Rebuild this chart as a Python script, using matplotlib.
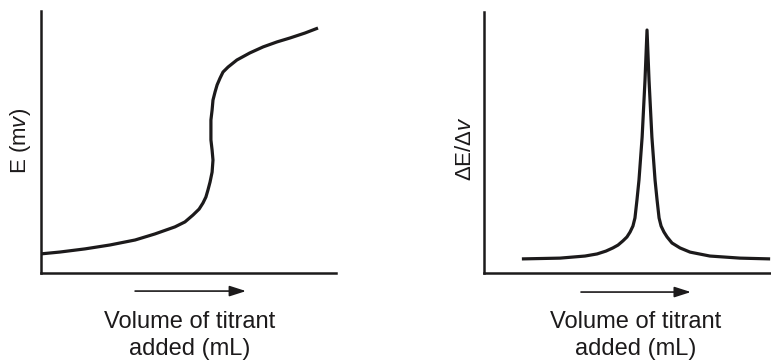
import matplotlib
matplotlib.use("Agg")
import matplotlib.pyplot as plt

plt.rcParams['font.family'] = ['Liberation Sans', 'DejaVu Sans']
plt.rcParams['mathtext.fontset'] = 'custom'
plt.rcParams['mathtext.rm'] = 'Liberation Sans'
plt.rcParams['mathtext.it'] = 'Liberation Sans:italic'

# titration curve (E vs volume)
vol_e = [0.00, 0.64, 1.49, 2.34, 3.19, 3.86, 4.54, 4.88, 5.15, 5.36, 5.49, 5.59,
         5.66, 5.73, 5.80, 5.83, 5.80, 5.76, 5.76, 5.76, 5.80, 5.83, 5.90, 5.97,
         6.07, 6.17, 6.34, 6.64, 7.08, 7.53, 8.00, 8.44, 8.95, 9.39]
e_mv = [0.73, 0.80, 0.92, 1.07, 1.26, 1.49, 1.76, 1.95, 2.21, 2.44, 2.67, 2.90,
        3.17, 3.47, 3.85, 4.31, 4.69, 5.08, 5.46, 5.84, 6.22, 6.60, 6.91, 7.18,
        7.44, 7.67, 7.86, 8.13, 8.40, 8.63, 8.82, 8.97, 9.16, 9.35]

# first derivative curve
vol_d = [1.32, 2.65, 3.52, 3.94, 4.25, 4.49, 4.67, 4.84, 4.98, 5.09, 5.19,
         5.26, 5.33, 5.40, 5.51, 5.61, 5.68, 5.75, 5.85, 5.96, 6.03, 6.10,
         6.17, 6.27, 6.38, 6.55, 6.83, 7.18, 7.87, 8.92, 9.97]
de_dv = [0.54, 0.57, 0.65, 0.73, 0.84, 0.96, 1.07, 1.23, 1.38, 1.57, 1.80,
         2.11, 2.80, 3.56, 5.21, 7.39, 9.31, 7.39, 5.21, 3.56, 2.80, 2.11,
         1.80, 1.57, 1.38, 1.15, 0.96, 0.80, 0.65, 0.57, 0.54]

ink = '#1c1a1b'
xlabel1 = 'Volume of titrant'
xlabel2 = 'added (mL)'

fig = plt.figure(figsize=(7.71, 3.62), dpi=100)
ax1 = fig.add_axes([41/771, 1 - 273/362, 295/771, 262/362])
ax2 = fig.add_axes([484/771, 1 - 273/362, 287/771, 261/362])

panels = [
    (ax1, vol_e, e_mv, 'E (m$\\mathit{v}$)', 0.505, -0.071, 0.504, 0.319, 0.695, -0.069),
    (ax2, vol_d, de_dv, 'ΔE/Δ$\\mathit{v}$', 0.530, -0.066, 0.475, 0.338, 0.721, -0.073),
]

for ax, x, y, ylab, xc, yx, yy, a0, a1, ay in panels:
    ax.plot(x, y, color=ink, lw=2.3, solid_capstyle='butt', solid_joinstyle='round')
    ax.set_xlim(0, 10)
    ax.set_ylim(0, 10)
    for s in ['top', 'right']:
        ax.spines[s].set_visible(False)
    for s in ['left', 'bottom']:
        ax.spines[s].set_linewidth(1.8)
        ax.spines[s].set_color(ink)
    ax.set_xticks([])
    ax.set_yticks([])
    ax.text(yx, yy, ylab, transform=ax.transAxes, rotation=90,
            ha='center', va='center', fontsize=16, color=ink)
    ax.text(xc, -0.210, xlabel1, transform=ax.transAxes, ha='center',
            va='baseline', fontsize=17, color=ink)
    ax.text(xc, -0.313, xlabel2, transform=ax.transAxes, ha='center',
            va='baseline', fontsize=17, color=ink)
    ax.annotate('', xy=(a1, ay), xytext=(a0, ay), xycoords='axes fraction',
                textcoords='axes fraction', annotation_clip=False,
                arrowprops=dict(arrowstyle='-|>,head_length=1.0,head_width=0.32',
                                color=ink, lw=1.2, shrinkA=0, shrinkB=0))

fig.savefig('out.png', dpi=100)
